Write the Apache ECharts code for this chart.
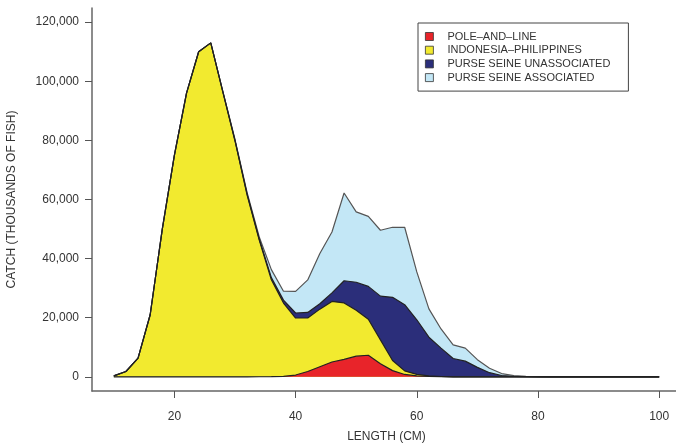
<!DOCTYPE html>
<html>
<head>
<meta charset="utf-8">
<script src="https://cdn.jsdelivr.net/npm/echarts@6/dist/echarts.min.js"></script>
<style>html,body{margin:0;padding:0;background:#fff}#c{width:676px;height:445px}</style>
</head>
<body>
<div id="c"></div>
<script>
const lengths = [10,12,14,16,18,20,22,24,26,28,30,32,34,36,38,40,42,44,46,48,50,52,54,56,58,60,62,64,66,68,70,72,74,76,78,80,82,84,86,88,90,92,94,96,98,100];
const poleAndLine = [0,0,0,0,0,0,0,0,0,0,0,0, 30,60,150,600,1800,3400,5000,5900,7000,7300,4400,2100,800,300,100,50, 0,0,0,0,0,0,0,0,0,0,0,0,0,0,0,0,0,0];
const indoPhil = [300,1800,6300,21000,50000,75000,96000,110000,113000,96300,79800,61500,46200,32800,24800,19300,18100,19500,20500,19100,15500,12200,8100,3400,1200,500,200,50, 0,0,0,0,0,0,0,0,0,0,0,0,0,0,0,0,0,0];
const psUnassoc = [0,0,0,0,0,0,0,0,0, 100,200,300,400,700,1000,1700,1900,1800,2900,7500,9500,11100,14800,21400,22400,18500,13100,9600,6200,5300,3200,1400,450,150,50, 0,0,0,0,0,0,0,0,0,0,0];
const psAssoc = [0,0,0,0,0,0,0,0,0, 100,300,500,700,2700,3000,7300,11000,17000,20600,29700,23800,23700,22300,23700,26200,16200,9600,6500,4600,4400,2600,1500,650,300,100,50, 0,0,0,0,0,0,0,0,0,0];
const seriesNames = ['POLE–AND–LINE','INDONESIA–PHILIPPINES','PURSE SEINE UNASSOCIATED','PURSE SEINE ASSOCIATED'];
const seriesColors = ['#E8242A','#F2EA2F','#2B2E7A','#C3E7F6'];
const xTicks = [20,40,60,80,100];
const yTicks = [0,20000,40000,60000,80000,100000,120000];

const allValues = [poleAndLine, indoPhil, psUnassoc, psAssoc];
// cumulative stacking (bottom to top)
const cumul = [];
allValues.forEach((arr,i)=>{
  cumul.push(arr.map((v,j)=> v + (i>0 ? cumul[i-1][j] : 0)));
});
const chart = echarts.init(document.getElementById('c'), null, {renderer:'canvas'});
const font = 'Liberation Sans, Arial, Helvetica, sans-serif';
// draw top layer first so lower layers are painted over it
const order = [3,2,1,0];
chart.setOption({
  animation:false,
  textStyle:{fontFamily:font},
  grid:{left:92, top:8, width:589, bottom:54, containLabel:false, outerBoundsMode:'none'},
  legend:{
    orient:'vertical', left:418, top:23,
    borderColor:'#444', borderWidth:1, borderRadius:0,
    padding:[8,18,8,7],
    itemWidth:8, itemHeight:8, itemGap:2.7,
    icon:'rect',
    itemStyle:{borderColor:'#333', borderWidth:0.8},
    textStyle:{fontSize:11, color:'#333', lineHeight:11, padding:[0,0,0,9], fontFamily:font},
    data:seriesNames
  },
  xAxis:{
    type:'value', min:6.4, max:103.6,
    name:'LENGTH (CM)', nameLocation:'middle', nameGap:40,
    nameTextStyle:{fontSize:12, color:'#333', fontFamily:font},
    splitLine:{show:false},
    axisLine:{show:true, onZero:false, lineStyle:{color:'#666', width:1.5}},
    axisTick:{show:true, length:7, lineStyle:{color:'#555', width:1}, customValues:xTicks},
    axisLabel:{fontSize:12, color:'#333', margin:20, customValues:xTicks, fontFamily:font}
  },
  yAxis:{
    type:'value', min:-4800, max:124800,
    name:'CATCH (THOUSANDS OF FISH)', nameLocation:'middle', nameGap:74,
    nameTextStyle:{fontSize:12, color:'#333', fontFamily:font},
    splitLine:{show:false},
    axisLine:{show:true, onZero:false, lineStyle:{color:'#666', width:1.5}},
    axisTick:{show:true, length:7, lineStyle:{color:'#555', width:1}, customValues:yTicks},
    axisLabel:{fontSize:12, color:'#333', margin:13, customValues:yTicks, fontFamily:font,
      formatter:v=>v.toLocaleString('en-US')}
  },
  series: order.map(i=>({
    name:seriesNames[i], type:'line', symbol:'none', showSymbol:false,
    data: lengths.map((x,j)=>[x, cumul[i][j]]),
    lineStyle:{color: i===3 ? '#555' : '#222', width:1.2},
    itemStyle:{color:seriesColors[i]},
    areaStyle:{color:seriesColors[i], opacity:1, origin:0}
  }))
});
</script>
</body>
</html>
